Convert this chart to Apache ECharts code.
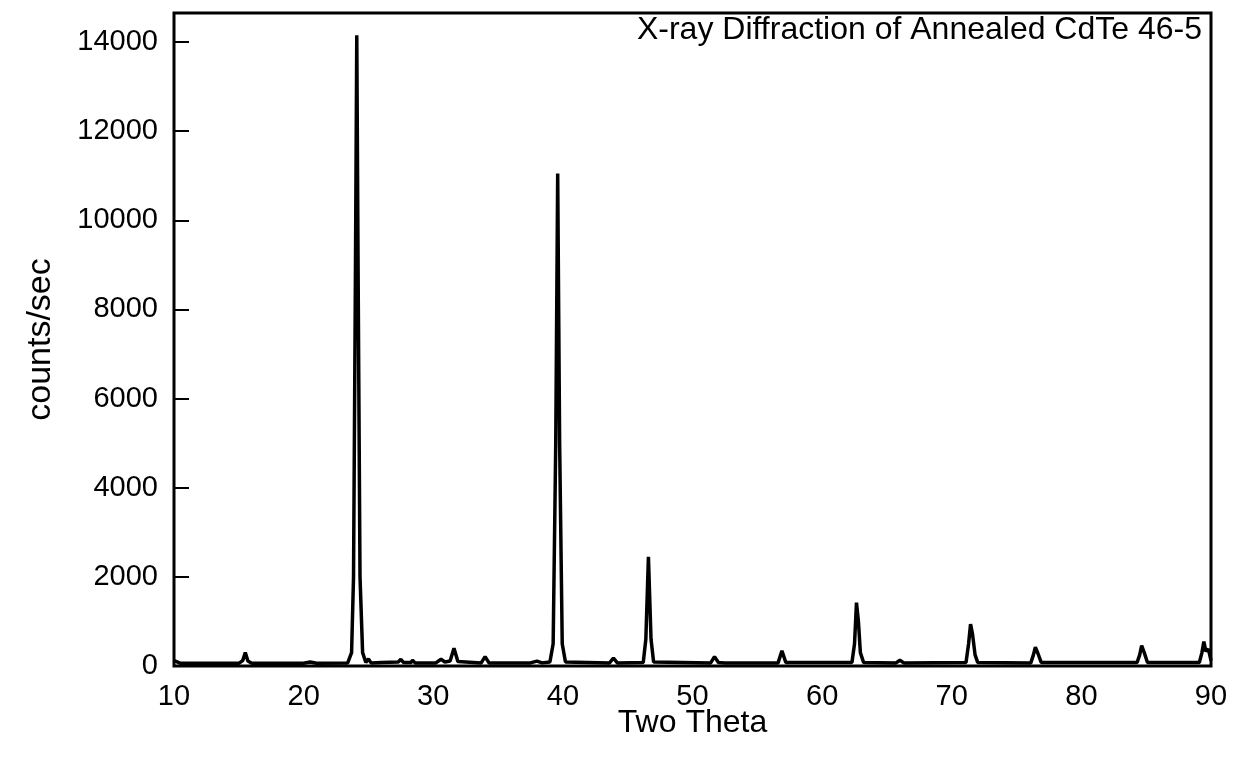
<!DOCTYPE html>
<html>
<head>
<meta charset="utf-8">
<title>X-ray Diffraction of Annealed CdTe 46-5</title>
<script src="https://cdn.jsdelivr.net/npm/echarts@6/dist/echarts.min.js"></script>
<style>
  html, body { margin: 0; padding: 0; background: #fff; }
  #chart { width: 1235px; height: 757px; }
</style>
</head>
<body>
<div id="chart"></div>
<script>
// two theta positions (deg)
const twoTheta = [
  10.0, 10.2, 10.5, 15.0, 15.3, 15.5, 15.7, 16.0, 20.0, 20.5, 21.0,
  23.4, 23.7, 23.85, 24.0, 24.1, 24.2, 24.35, 24.55, 24.8, 25.0, 25.2,
  26.0, 27.3, 27.5, 27.7, 28.3, 28.4, 28.6, 30.2, 30.6, 30.9, 31.3, 31.6, 31.9,
  33.7, 34.0, 34.3, 37.5, 38.0, 38.4, 39.0, 39.25, 39.45, 39.6, 39.75, 39.95, 40.2,
  43.6, 43.9, 44.2, 46.2, 46.4, 46.6, 46.8, 47.0, 51.4, 51.7, 52.0, 52.5,
  56.6, 56.9, 57.2, 62.3, 62.5, 62.65, 62.8, 62.95, 63.2, 65.7, 66.0, 66.3,
  71.1, 71.3, 71.45, 71.6, 71.8, 72.0, 76.1, 76.3, 76.45, 76.65, 76.9,
  84.3, 84.5, 84.65, 84.85, 85.1, 89.1, 89.3, 89.45, 89.6, 89.8, 90.0
]
// counts/sec at each position
const counts = [
  120, 100, 60, 60, 120, 300, 110, 60, 60, 90, 60,
  70, 300, 2000, 9000, 14150, 9000, 2000, 300, 80, 160, 70,
  80, 90, 150, 80, 80, 130, 70, 70, 150, 90, 110, 400, 100,
  70, 210, 70, 70, 110, 70, 90, 500, 5000, 11050, 5000, 500, 90,
  70, 180, 70, 80, 600, 2450, 600, 90, 70, 210, 80, 70,
  70, 340, 80, 80, 500, 1420, 1000, 300, 80, 70, 130, 70,
  80, 500, 940, 720, 250, 80, 70, 250, 420, 280, 80,
  80, 250, 460, 300, 80, 80, 300, 550, 330, 380, 120
]
const yTicks = [0, 2000, 4000, 6000, 8000, 10000, 12000, 14000]

const chart = echarts.init(document.getElementById('chart'))
const font = 'Liberation Sans, Arial, Helvetica, sans-serif'

chart.setOption({
  animation: false,
  backgroundColor: '#fff',
  title: {
    text: 'X-ray Diffraction of Annealed CdTe 46-5',
    right: 28,
    top: 9,
    textStyle: { fontFamily: font, fontSize: 32, fontWeight: 'normal', color: '#000' }
  },
  grid: {
    left: 174, right: 24, top: 13, bottom: 91,
    show: true, borderColor: '#000', borderWidth: 3
  },
  xAxis: {
    type: 'value',
    min: 10, max: 90, interval: 10,
    name: 'Two Theta',
    nameLocation: 'middle',
    nameGap: 41,
    nameMoveOverlap: false,
    nameTextStyle: { fontFamily: font, fontSize: 32, color: '#000' },
    axisLine: { show: false },
    axisTick: { show: false },
    splitLine: { show: false },
    axisLabel: { fontFamily: font, fontSize: 29, color: '#000', margin: 16 }
  },
  yAxis: {
    type: 'value',
    min: 0, max: 14650, interval: 2000,
    name: 'counts/sec',
    nameLocation: 'middle',
    nameGap: 116,
    nameMoveOverlap: false,
    nameTextStyle: { fontFamily: font, fontSize: 34, color: '#000' },
    axisLine: { show: false },
    axisTick: { show: true, inside: true, length: 15, lineStyle: { color: '#000', width: 2 } },
    splitLine: { show: false },
    axisLabel: {
      fontFamily: font, fontSize: 29, color: '#000', margin: 16,
      formatter: v => (yTicks.includes(v) ? String(v) : '')
    }
  },
  series: [{
    type: 'line',
    data: twoTheta.map((t, i) => [t, counts[i]]),
    showSymbol: false,
    lineStyle: { color: '#000', width: 3.5 },
    clip: true
  }]
})
</script>
</body>
</html>
